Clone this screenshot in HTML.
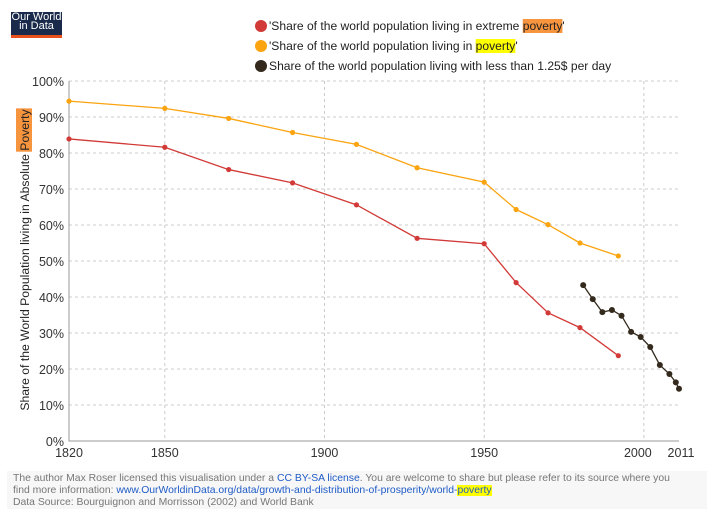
<!DOCTYPE html>
<html><head><meta charset="utf-8"><style>
body{margin:0;width:713px;height:525px;background:#fff;font-family:"Liberation Sans",Arial,sans-serif;overflow:hidden;position:relative}
#logo{position:absolute;left:11px;top:12px;width:51px;height:22px;background:#1a2a4a;color:#fff;font-size:11px;line-height:9px;text-align:center;border-bottom:3px solid #e8501c;padding-top:1px;box-sizing:content-box}
#foot{position:absolute;left:7px;top:471px;height:38px;width:700px;box-sizing:border-box;background:#f7f7f7;font-size:10.4px;color:#777;line-height:12px;padding:2px 0 0 6px;white-space:nowrap;overflow:hidden}
#foot a{color:#1f5bc7;text-decoration:none}
.hl{background:#ff0}
</style></head><body>
<div id="logo">Our World<br>in Data</div>
<svg id="chart" width="713" height="470" style="position:absolute;left:0;top:0"></svg>
<div id="foot">The author Max Roser licensed this visualisation under a <a>CC BY-SA license</a>. You are welcome to share but please refer to its source where you<br>find more information: <a>www.OurWorldinData.org/data/growth-and-distribution-of-prosperity/world-<span class="hl">poverty</span></a><br>Data Source: Bourguignon and Morrisson (2002) and World Bank</div>
<script>
const redYears=[1820,1850,1870,1890,1910,1929,1950,1960,1970,1980,1992];
const redValues=[83.9,81.6,75.4,71.7,65.6,56.3,54.8,44.0,35.6,31.5,23.7];
const orangeYears=[1820,1850,1870,1890,1910,1929,1950,1960,1970,1980,1992];
const orangeValues=[94.4,92.4,89.6,85.7,82.4,75.9,71.9,64.3,60.1,55.0,51.4];
const blackYears=[1981,1984,1987,1990,1993,1996,1999,2002,2005,2008,2010,2011];
const blackValues=[43.3,39.4,35.8,36.4,34.8,30.3,28.9,26.1,21.1,18.6,16.3,14.5];
const yTicks=[0,10,20,30,40,50,60,70,80,90,100];
const xTicks=[1820,1850,1900,1950,2000,2011];
const NS='http://www.w3.org/2000/svg';
const svg=document.getElementById('chart');
const X=y=>69+(y-1820)*(610/191);
const Y=v=>441-v*3.6;
function el(t,a,p){const e=document.createElementNS(NS,t);for(const k in a)e.setAttribute(k,a[k]);(p||svg).appendChild(e);return e;}
yTicks.forEach(t=>{
  if(t>0){const g=el('line',{x1:69,x2:679,y1:Y(t),y2:Y(t),stroke:'#ccc','stroke-dasharray':'3,3'});
  
  }
  const l=el('text',{x:64,y:Y(t)+5,'text-anchor':'end','font-size':12.5,fill:'#333'});l.textContent=t+'%';
  
  
});
xTicks.forEach(t=>{
  if(t>1820&&t<2011){const g=el('line',{x1:X(t),x2:X(t),y1:81,y2:441,stroke:'#ccc','stroke-dasharray':'3,3'});
  
  }
  const l=el('text',{x:X(t)+(t==2000?-6:t==2011?2:0),y:457,'text-anchor':'middle','font-size':12.5,fill:'#333'});l.textContent=t;
  
  
});
const ax=el('path',{d:'M69 81V441H679',fill:'none',stroke:'#999'});


function series(xs,vs,c,r,name){
  const p=el('polyline',{points:xs.map((x,i)=>X(x)+','+Y(vs[i])).join(' '),fill:'none',stroke:c,'stroke-width':1.3});
  
  
  xs.forEach((x,i)=>{const d=el('circle',{cx:X(x),cy:Y(vs[i]),r:r,fill:c});
    
    });
}
series(orangeYears,orangeValues,'#fba40f',2.6,'poverty');
series(redYears,redValues,'#d13a37',2.6,'extreme-poverty');
series(blackYears,blackValues,'#33291c',3,'below-1-25');
const leg=[['#d13a37',"'Share of the world population living in extreme ",'poverty',"'",'#f7943e'],
['#fba40f',"'Share of the world population living in ",'poverty',"'",'#ff0'],
['#33291c','Share of the world population living with less than 1.25$ per day','','','']];
leg.forEach((L,i)=>{
  const y=26+i*20;
  const c=el('circle',{cx:261,cy:y,r:6,fill:L[0]});
  
  
  const bg=el('rect',{x:0,y:y-7,width:0,height:14,fill:L[4]||'none'});
  const t=el('text',{x:269,y:y+4,'font-size':12.1,fill:'#222'});
  t.textContent=L[1]+L[2]+L[3];
  
  
  if(L[2]){const s=t.getSubStringLength(0,L[1].length),w=t.getSubStringLength(L[1].length,L[2].length);
    bg.setAttribute('x',269+s);bg.setAttribute('width',w);}
});
const yt=el('g',{transform:'translate(29,260) rotate(-90)'});
const hb=el('rect',{x:0,y:-13,width:0,height:16,fill:'#f7943e'},yt);
const full='Share of the World Population living in Absolute Poverty';
const tt=el('text',{x:0,y:0,'text-anchor':'middle','font-size':12.2,fill:'#222'},yt);
tt.textContent=full;


const tot=tt.getComputedTextLength(),pre=tt.getSubStringLength(0,full.length-7);
hb.setAttribute('x',-tot/2+pre-1);hb.setAttribute('width',tot-pre+2);
</script>
</body></html>
